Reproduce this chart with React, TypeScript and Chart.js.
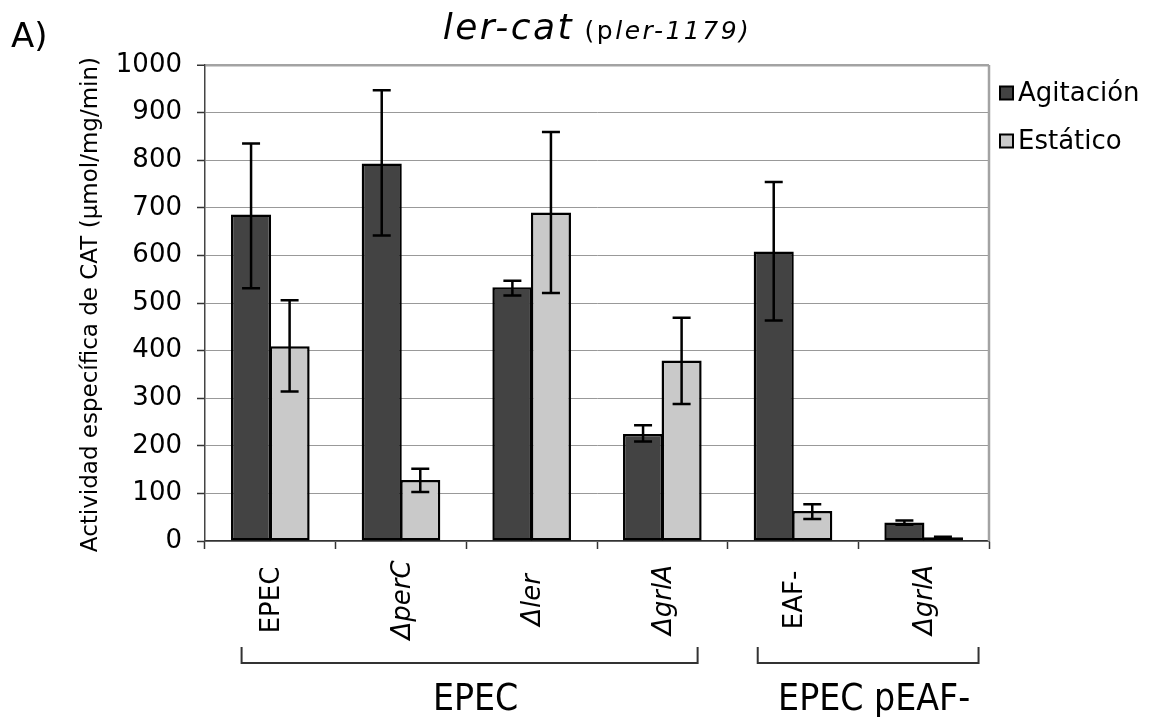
import React, { useEffect, useRef } from "react";
import { Chart, registerables } from "chart.js";

Chart.register(...registerables);

// ---------- data ----------
const categories = ["EPEC", "ΔperC", "Δler", "ΔgrlA", "EAF-", "ΔgrlA"];
const categoryItalic = [false, true, true, true, false, true];

const agitacion = [686, 793, 533, 225, 608, 39];
const agitacionLow = [531, 642, 516, 209, 463, 34];
const agitacionHigh = [835, 947, 547, 243, 754, 43];

const estatico = [409, 128, 690, 379, 63, 8];
const estaticoLow = [314, 103, 521, 288, 46, 6];
const estaticoHigh = [506, 152, 859, 469, 77, 9];

const seriesNames = ["Agitación", "Estático"];
const seriesColors = ["#434343", "#c9c9c9"];

const yMin = 0;
const yMax = 1000;
const yStep = 100;

const groupLabels = ["EPEC", "EPEC pEAF-"];
const groupStart = [0, 4];
const groupEnd = [3, 5];

const panelLabel = "A)";
const yTitle = "Actividad específica de CAT (µmol/mg/min)";

// ---------- styling ----------
const FONT = '"DejaVu Sans", "Noto Sans", sans-serif';
const NARROW = '"Liberation Sans Narrow", "DejaVu Sans Condensed", "Liberation Sans", sans-serif';

const errorBarsPlugin = {
  id: "errorBars",
  afterDatasetsDraw(chart: any) {
    const { ctx } = chart;
    const y = chart.scales.y;
    const lows = [agitacionLow, estaticoLow];
    const highs = [agitacionHigh, estaticoHigh];
    ctx.save();
    ctx.strokeStyle = "#000";
    ctx.lineWidth = 2.5;
    ctx.lineCap = "butt";
    for (let d = 0; d < 2; d++) {
      const meta = chart.getDatasetMeta(d);
      meta.data.forEach((bar: any, j: number) => {
        const x = bar.x;
        const yl = y.getPixelForValue(lows[d][j]);
        const yh = y.getPixelForValue(highs[d][j]);
        const half = 9;
        ctx.beginPath();
        ctx.moveTo(x, yl);
        ctx.lineTo(x, yh);
        ctx.moveTo(x - half, yl);
        ctx.lineTo(x + half, yl);
        ctx.moveTo(x - half, yh);
        ctx.lineTo(x + half, yh);
        ctx.stroke();
      });
    }
    ctx.restore();
  },
};

const framePlugin = {
  id: "frame",
  beforeDatasetsDraw(chart: any) {
    const { ctx, chartArea } = chart;
    ctx.save();
    ctx.strokeStyle = "#a3a3a3";
    ctx.lineWidth = 2.5;
    ctx.beginPath();
    ctx.moveTo(chartArea.right, chartArea.top);
    ctx.lineTo(chartArea.right, chartArea.bottom);
    ctx.stroke();
    ctx.restore();
  },
};

const decorPlugin = {
  id: "decor",
  afterDraw(chart: any) {
    const { ctx, chartArea } = chart;
    const x = chart.scales.x;
    ctx.save();

    // panel label
    ctx.fillStyle = "#000";
    ctx.font = `34px ${FONT}`;
    ctx.textAlign = "left";
    ctx.textBaseline = "alphabetic";
    ctx.fillText(panelLabel, 11, 47);

    // title: ler-cat (pler-1179)
    const parts = [
      { t: "ler-cat", f: `italic 36px ${FONT}` },
      { t: " (p", f: `25px ${FONT}` },
      { t: "ler-1179)", f: `italic 25px ${FONT}` },
    ];
    (ctx as any).letterSpacing = "2.5px";
    let total = 0;
    const widths = parts.map((p) => {
      ctx.font = p.f;
      const w = ctx.measureText(p.t).width;
      total += w;
      return w;
    });
    let tx = (chartArea.left + chartArea.right) / 2 - total / 2;
    parts.forEach((p, i) => {
      ctx.font = p.f;
      ctx.fillText(p.t, tx, 39);
      tx += widths[i];
    });
    (ctx as any).letterSpacing = "0px";

    // y title
    ctx.save();
    ctx.translate(91, 57);
    ctx.rotate(-Math.PI / 2);
    ctx.font = `23px ${FONT}`;
    ctx.textAlign = "right";
    ctx.textBaseline = "middle";
    ctx.fillText(yTitle, 0, 0);
    ctx.restore();

    // category labels (rotated, centered)
    categories.forEach((c, i) => {
      const px = x.getPixelForValue(i);
      ctx.save();
      ctx.translate(px + 2, 600);
      ctx.rotate(-Math.PI / 2);
      ctx.font = `${categoryItalic[i] ? "italic " : ""}26px ${FONT}`;
      ctx.textAlign = "center";
      ctx.textBaseline = "middle";
      ctx.fillText(c, 0, 0);
      ctx.restore();
    });

    // legend
    const legendY = [93, 141];
    seriesNames.forEach((n, i) => {
      ctx.fillStyle = seriesColors[i];
      ctx.fillRect(1000, legendY[i] - 6.5, 13, 13);
      ctx.strokeStyle = "#000";
      ctx.lineWidth = 2;
      ctx.strokeRect(1000, legendY[i] - 6.5, 13, 13);
      ctx.fillStyle = "#000";
      ctx.font = `26px ${FONT}`;
      ctx.textAlign = "left";
      ctx.textBaseline = "middle";
      ctx.fillText(n, 1018, legendY[i] + 1);
    });

    // group brackets
    const cw = (chartArea.right - chartArea.left) / categories.length;
    const leftOff = [-0.22, -0.27];
    const rightOff = [0.27, 0.42];
    ctx.strokeStyle = "#333";
    ctx.lineWidth = 2;
    groupLabels.forEach((g, i) => {
      const l = x.getPixelForValue(groupStart[i]) + leftOff[i] * cw;
      const r = x.getPixelForValue(groupEnd[i]) + rightOff[i] * cw;
      ctx.beginPath();
      ctx.moveTo(l, 647);
      ctx.lineTo(l, 663);
      ctx.lineTo(r, 663);
      ctx.lineTo(r, 647);
      ctx.stroke();
      ctx.fillStyle = "#000";
      ctx.font = `37px ${NARROW}`;
      ctx.textAlign = "center";
      ctx.textBaseline = "alphabetic";
      ctx.fillText(g, (l + r) / 2 + 6, 710);
    });

    ctx.restore();
  },
};

export default function App() {
  const ref = useRef<HTMLCanvasElement>(null);
  useEffect(() => {
    document.body.style.margin = "0";
    const barStyle = {
      borderColor: "#000",
      borderWidth: 2.5,
      borderSkipped: false,
      categoryPercentage: 0.59,
      barPercentage: 1.04,
    };
    const chart = new Chart(ref.current as HTMLCanvasElement, {
      type: "bar",
      data: {
        labels: categories,
        datasets: [
          { label: seriesNames[0], data: agitacion, backgroundColor: seriesColors[0], ...barStyle },
          { label: seriesNames[1], data: estatico, backgroundColor: seriesColors[1], ...barStyle },
        ],
      },
      options: {
        responsive: false,
        animation: false,
        devicePixelRatio: 1,
        layout: { padding: { left: 0, top: 65, right: 167, bottom: 0 } },
        plugins: {
          legend: { display: false },
          title: { display: false },
          tooltip: { enabled: false },
        },
        scales: {
          x: {
            offset: true,
            grid: {
              display: true,
              drawOnChartArea: false,
              drawTicks: true,
              tickLength: 8,
              tickColor: "#333",
              tickWidth: 1.5,
              offset: true,
            },
            border: { display: true, color: "#333", width: 1.5 },
            ticks: { display: false },
            afterFit: (s: any) => {
              s.height = 176;
            },
          },
          y: {
            min: yMin,
            max: yMax,
            ticks: {
              stepSize: yStep,
              color: "#000",
              font: { family: FONT, size: 26 },
              padding: 15,
              callback: (v: any) => String(v),
            },
            grid: {
              color: (c: any) => (c.tick && c.tick.value === yMax ? "#a3a3a3" : "#999"),
              lineWidth: (c: any) => (c.tick && c.tick.value === yMax ? 2.5 : 1),
              drawTicks: true,
              tickLength: 8,
              tickColor: "#333",
              tickWidth: 1.5,
            },
            border: { display: true, color: "#444", width: 1.5 },
            afterFit: (s: any) => {
              s.width = 205;
            },
          },
        },
      },
      plugins: [framePlugin, errorBarsPlugin, decorPlugin],
    } as any);
    return () => chart.destroy();
  }, []);
  return (
    <div style={{ position: "absolute", left: 0, top: 0, width: 1156, height: 717, background: "#fff" }}>
      <canvas ref={ref} width={1156} height={717} style={{ display: "block", width: 1156, height: 717 }} />
    </div>
  );
}
